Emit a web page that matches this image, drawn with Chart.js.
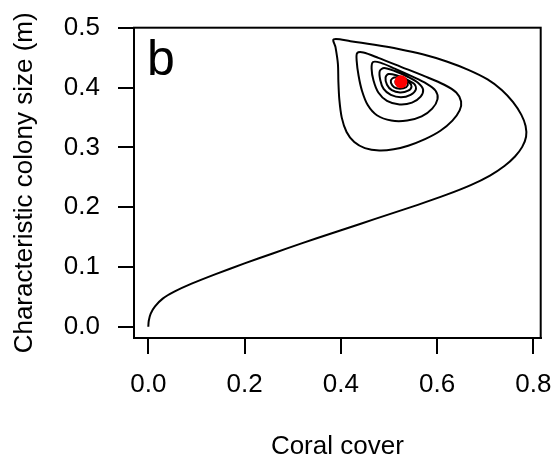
<!DOCTYPE html>
<html>
<head>
<meta charset="utf-8">
<script src="https://cdn.jsdelivr.net/npm/chart.js@4"></script>
<style>
  body { margin: 0; background: #fff; }
</style>
</head>
<body>
<canvas id="phase-chart" width="555" height="466"></canvas>
<script>
// trajectory: coral cover vs characteristic colony size
var coverX = [
  0.000, 0.001, 0.005, 0.014, 0.030, 0.055, 0.090, 0.140, 0.200, 0.260,
  0.320, 0.380, 0.440, 0.500, 0.560, 0.620, 0.670, 0.710, 0.740, 0.762,
  0.777, 0.785, 0.784, 0.775, 0.758, 0.735, 0.705, 0.665, 0.620, 0.570,
  0.520, 0.470, 0.420, 0.385, 0.389, 0.394, 0.395, 0.397, 0.402, 0.412,
  0.428, 0.450, 0.480, 0.510, 0.540, 0.575, 0.607, 0.632, 0.647, 0.650,
  0.640, 0.615, 0.575, 0.525, 0.478, 0.447, 0.434, 0.433, 0.437, 0.444,
  0.456, 0.475, 0.505, 0.538, 0.568, 0.590, 0.601, 0.597, 0.578, 0.548,
  0.512, 0.482, 0.467, 0.464, 0.468, 0.478, 0.496, 0.522, 0.548, 0.566,
  0.571, 0.561, 0.540, 0.512, 0.490, 0.481, 0.482, 0.489, 0.504, 0.525,
  0.545, 0.556, 0.553, 0.537, 0.515, 0.499, 0.493, 0.496, 0.506, 0.523,
  0.540, 0.547, 0.542, 0.527, 0.511, 0.504, 0.507, 0.516, 0.530, 0.539,
  0.536, 0.524, 0.514, 0.515, 0.525, 0.533, 0.528
];
var sizeY = [
  0.000, 0.010, 0.022, 0.034, 0.047, 0.059, 0.072, 0.088, 0.106, 0.123,
  0.140, 0.156, 0.172, 0.188, 0.204, 0.221, 0.237, 0.253, 0.269, 0.285,
  0.301, 0.318, 0.336, 0.355, 0.376, 0.396, 0.414, 0.430, 0.444, 0.456,
  0.465, 0.472, 0.478, 0.481, 0.468, 0.440, 0.410, 0.380, 0.350, 0.326,
  0.309, 0.299, 0.295, 0.297, 0.303, 0.314, 0.328, 0.345, 0.362, 0.377,
  0.392, 0.405, 0.419, 0.435, 0.450, 0.459, 0.458, 0.445, 0.420, 0.395,
  0.371, 0.354, 0.345, 0.345, 0.352, 0.365, 0.381, 0.395, 0.407, 0.419,
  0.432, 0.442, 0.443, 0.432, 0.412, 0.392, 0.378, 0.372, 0.375, 0.385,
  0.397, 0.408, 0.418, 0.428, 0.433, 0.428, 0.413, 0.398, 0.388, 0.384,
  0.388, 0.397, 0.406, 0.414, 0.421, 0.423, 0.417, 0.405, 0.396, 0.392,
  0.395, 0.402, 0.409, 0.415, 0.417, 0.412, 0.404, 0.399, 0.399, 0.404,
  0.410, 0.414, 0.412, 0.406, 0.403, 0.407, 0.412
];
// equilibrium point (red dot)
var eqX = [0.525];
var eqY = [0.410];

var xTicks = [0, 0.2, 0.4, 0.6, 0.8];
var yTicks = [0, 0.1, 0.2, 0.3, 0.4, 0.5];
var panelLabel = 'b';

var fontFamily = '"Liberation Sans", Arial, Helvetica, sans-serif';

function toPoints(xs, ys) {
  return xs.map(function(x, i) { return { x: x, y: ys[i] }; });
}

// R-style box around the plot region plus the panel letter
var boxPlugin = {
  id: 'rbox',
  afterDraw: function(chart) {
    var ctx = chart.ctx;
    var a = chart.chartArea;
    ctx.save();
    ctx.strokeStyle = '#000';
    ctx.lineWidth = 2;
    ctx.strokeRect(a.left, a.top, a.right - a.left, a.bottom - a.top);
    ctx.fillStyle = '#000';
    ctx.font = '50px ' + fontFamily;
    ctx.textBaseline = 'alphabetic';
    ctx.fillText(panelLabel, a.left + 13, a.top + 47);
    ctx.restore();
  }
};

var elem = document.getElementById('phase-chart');

var phaseChart = new Chart(elem, {
  type: 'scatter',
  data: {
    datasets: [{
      label: 'Equilibrium',
      data: toPoints(eqX, eqY),
      backgroundColor: '#ff0000',
      borderWidth: 0,
      pointRadius: 6.5,
      pointHoverRadius: 6.5,
      order: 0
    }, {
      label: 'Trajectory',
      data: toPoints(coverX, sizeY),
      showLine: true,
      borderColor: '#000',
      borderWidth: 2,
      pointRadius: 0,
      tension: 0.3,
      order: 1
    }]
  },
  options: {
    responsive: false,
    animation: false,
    layout: {
      padding: { top: 27.7, right: 14.3, left: 0, bottom: 0 }
    },
    plugins: {
      legend: { display: false },
      tooltip: { enabled: false }
    },
    scales: {
      x: {
        type: 'linear',
        min: -0.0297,
        max: 0.8154,
        afterBuildTicks: function(scale) {
          scale.ticks = xTicks.map(function(v) { return { value: v }; });
        },
        afterFit: function(scale) {
          scale.height = 128;
          scale.paddingLeft = 0;
          scale.paddingRight = 0;
        },
        grid: {
          drawOnChartArea: false,
          drawTicks: true,
          tickLength: 16,
          color: '#000',
          lineWidth: 2
        },
        border: { display: true, color: '#000', width: 2 },
        ticks: {
          autoSkip: false,
          maxRotation: 0,
          padding: 15,
          color: '#000',
          font: { family: fontFamily, size: 26 },
          callback: function(value) { return value.toFixed(1); }
        },
        title: {
          display: true,
          text: 'Coral cover',
          color: '#000',
          font: { family: fontFamily, size: 26 },
          padding: { top: 0, bottom: 3.7 }
        }
      },
      y: {
        type: 'linear',
        min: -0.0189,
        max: 0.5005,
        afterBuildTicks: function(scale) {
          scale.ticks = yTicks.map(function(v) { return { value: v }; });
        },
        afterFit: function(scale) {
          scale.width = 134;
          scale.paddingTop = 0;
          scale.paddingBottom = 0;
        },
        grid: {
          drawOnChartArea: false,
          drawTicks: true,
          tickLength: 16,
          color: '#000',
          lineWidth: 2
        },
        border: { display: true, color: '#000', width: 2 },
        ticks: {
          autoSkip: false,
          padding: 18,
          color: '#000',
          font: { family: fontFamily, size: 26 },
          callback: function(value) { return value.toFixed(1); }
        },
        title: {
          display: true,
          text: 'Characteristic colony size (m)',
          color: '#000',
          font: { family: fontFamily, size: 26 },
          padding: { top: 9.4, bottom: 0 }
        }
      }
    }
  },
  plugins: [boxPlugin]
});
</script>
</body>
</html>
